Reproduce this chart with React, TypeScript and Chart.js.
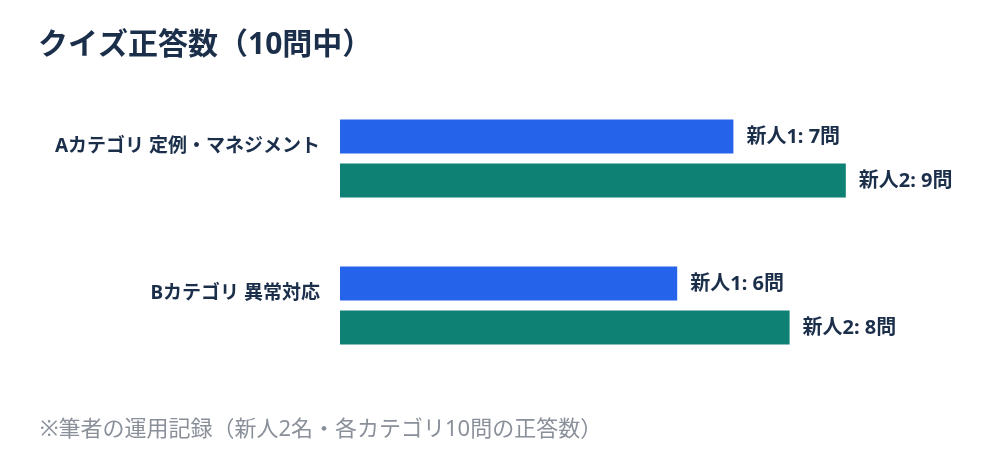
import { useEffect, useRef } from 'react';
import { Chart, registerables } from 'chart.js';

Chart.register(...registerables);

const titleText = 'クイズ正答数（10問中）';
const noteText = '※筆者の運用記録（新人2名・各カテゴリ10問の正答数）';
const categories = ['Aカテゴリ 定例・マネジメント', 'Bカテゴリ 異常対応'];
const seriesNames = ['新人1', '新人2'];
const trainee1 = [7, 6];
const trainee2 = [9, 8];
const seriesColors = ['#2563eb', '#0f8074'];

const FONT = "'Noto Sans', 'Noto Sans CJK JP', sans-serif";

// draws title, footnote, category labels and value labels
const textPlugin = {
  id: 'textPlugin',
  afterDraw(chart: any) {
    const ctx = chart.ctx;
    ctx.save();
    ctx.textBaseline = 'middle';

    ctx.fillStyle = '#1b2f4b';
    ctx.font = `bold 30px ${FONT}`;
    ctx.textAlign = 'left';
    ctx.fillText(titleText, 38, 45);

    ctx.fillStyle = '#8a909a';
    ctx.font = `22px ${FONT}`;
    ctx.fillText(noteText, 40, 430);

    const yScale = chart.scales.y;
    ctx.fillStyle = '#1b2f4b';
    ctx.font = `bold 19px ${FONT}`;
    ctx.textAlign = 'right';
    categories.forEach((c, i) => {
      ctx.fillText(c, 320, yScale.getPixelForValue(i) - 12);
    });

    ctx.font = `bold 20px ${FONT}`;
    ctx.textAlign = 'left';
    chart.data.datasets.forEach((ds: any, di: number) => {
      const meta = chart.getDatasetMeta(di);
      meta.data.forEach((bar: any, i: number) => {
        ctx.fillText(`${seriesNames[di]}: ${ds.data[i]}問`, bar.x + 13, bar.y + 1);
      });
    });
    ctx.restore();
  },
};

export default function App() {
  const canvasRef = useRef<HTMLCanvasElement>(null);

  useEffect(() => {
    document.body.style.margin = '0';
    if (!canvasRef.current) return;
    const chart = new Chart(canvasRef.current, {
      type: 'bar',
      data: {
        labels: categories,
        datasets: [
          { label: seriesNames[0], data: trainee1, backgroundColor: seriesColors[0] },
          { label: seriesNames[1], data: trainee2, backgroundColor: seriesColors[1] },
        ],
      },
      options: {
        indexAxis: 'y',
        responsive: false,
        animation: false,
        layout: { padding: { left: 340, right: 98, top: 85, bottom: 91 } },
        datasets: { bar: { categoryPercentage: 0.6, barPercentage: 0.77 } },
        scales: {
          x: { display: false, min: 0, max: 10 },
          y: { display: false },
        },
        plugins: {
          legend: { display: false },
          tooltip: { enabled: false },
          title: { display: false },
        },
      },
      plugins: [textPlugin],
    });
    return () => chart.destroy();
  }, []);

  return (
    <div style={{ width: 1000, height: 470, background: '#fff' }}>
      <canvas ref={canvasRef} width={1000} height={470} />
    </div>
  );
}
